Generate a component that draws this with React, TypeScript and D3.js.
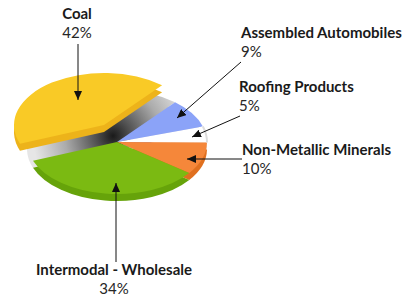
import * as d3 from 'd3'

const categories = ['Coal', 'Assembled Automobiles', 'Roofing Products', 'Non-Metallic Minerals', 'Intermodal - Wholesale']
const shares = [42, 9, 5, 10, 34]
const pctLabels = ['42%', '9%', '5%', '10%', '34%']
const topColors = ['#F9CA26', '#8BA3F8', '#FFFFFF', '#F5873A', '#7BBA12']
const sideColors = ['#EDB31A', '#6F88E0', '#E4E4E4', '#E0701F', '#66A30A']

const W = 402
const H = 297
const cx = 117
const cy = 142
const rx = 90
const ry = 52
const depth = 7
const explode = [-13, -17] // coal slice pulled out

// label / arrow layout
const labelLayout = [
  { x: 77, y: 19, anchor: 'middle', from: [78, 44], to: [78, 100] },
  { x: 241, y: 38, anchor: 'start', from: [241, 62], to: [177, 118] },
  { x: 239, y: 92, anchor: 'start', from: [240, 116], to: [192, 137] },
  { x: 242, y: 155, anchor: 'start', from: [242, 159], to: [187, 159] },
  { x: 114, y: 275, anchor: 'middle', from: [116, 262], to: [116, 183] },
]

const pt = (a: number) => [cx + rx * Math.sin(a), cy - ry * Math.cos(a)]

function sector(a0: number, a1: number, dx: number, dy: number) {
  const [x0, y0] = pt(a0)
  const [x1, y1] = pt(a1)
  const large = a1 - a0 > Math.PI ? 1 : 0
  return `M${cx + dx},${cy + dy}L${x0 + dx},${y0 + dy}A${rx},${ry} 0 ${large} 1 ${x1 + dx},${y1 + dy}Z`
}

export default function App() {
  const start = (-111 * Math.PI) / 180
  const arcs = d3.pie<number>().sort(null).startAngle(start).endAngle(start + 2 * Math.PI)(shares)

  const coal = arcs[0]
  const rest = arcs.slice(1)
  const font = 'Lato, "Open Sans", sans-serif'

  return (
    <svg width={W} height={H} style={{ position: 'absolute', left: 0, top: 0, background: '#fff' }}>
      <defs>
        <radialGradient id="hole" gradientUnits="userSpaceOnUse" cx={113} cy={136} r={80}>
          <stop offset="0" stopColor="#1a1a1a" />
          <stop offset="0.2" stopColor="#4d4d4d" />
          <stop offset="0.6" stopColor="#ababab" />
          <stop offset="1" stopColor="#e6e6e6" />
        </radialGradient>
        <marker id="arr" markerUnits="userSpaceOnUse" markerWidth={9} markerHeight={8} refX={9} refY={4} orient="auto">
          <path d="M0,0L9,4L0,8Z" fill="#111" />
        </marker>
      </defs>

      {/* exposed inner wall where the coal slice was */}
      <path d={sector(coal.startAngle, coal.endAngle, 0, depth)} fill="url(#hole)" />
      <path d={sector(coal.startAngle, coal.endAngle, 0, 0)} fill="url(#hole)" />

      {/* side walls of remaining slices */}
      {rest.map((d, i) => (
        <path key={'s' + i} d={sector(d.startAngle, d.endAngle, 0, depth)} fill={sideColors[i + 1]} />
      ))}
      {rest.map((d, i) => (
        <path key={'t' + i} d={sector(d.startAngle, d.endAngle, 0, 0)} fill={topColors[i + 1]} />
      ))}
      {/* faint rim on the white slice */}
      <path
        d={(() => {
          const d = arcs[2]
          const [x0, y0] = pt(d.startAngle)
          const [x1, y1] = pt(d.endAngle)
          return `M${x0},${y0}A${rx},${ry} 0 0 1 ${x1},${y1}`
        })()}
        fill="none"
        stroke="#dcdcdc"
        strokeWidth={2}
      />

      {/* exploded coal slice */}
      <path d={sector(coal.startAngle, coal.endAngle, explode[0], explode[1] + depth)} fill={sideColors[0]} />
      <path d={sector(coal.startAngle, coal.endAngle, explode[0], explode[1])} fill={topColors[0]} />

      {/* labels and arrows */}
      {labelLayout.map((l, i) => (
        <g key={'l' + i}>
          <line x1={l.from[0]} y1={l.from[1]} x2={l.to[0]} y2={l.to[1]} stroke="#111" strokeWidth={1} markerEnd="url(#arr)" />
          <text x={l.x} y={l.y} textAnchor={l.anchor} fontFamily={font} fontWeight={700} fontSize={15} fill="#1a1a1a">
            {categories[i]}
          </text>
          <text x={l.x} y={l.y + 19} textAnchor={l.anchor} fontFamily={font} fontSize={15} fill="#262626">
            {pctLabels[i]}
          </text>
        </g>
      ))}
    </svg>
  )
}
